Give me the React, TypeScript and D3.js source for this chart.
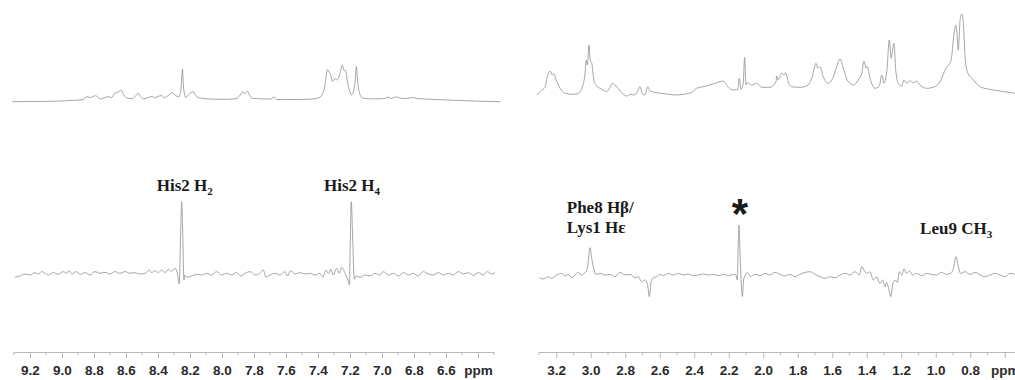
import React, { useEffect, useRef } from 'react';
import * as d3 from 'd3';

// aromatic region, 1D reference spectrum: [ppm, intensity a.u.]
const aroRef: [number, number][] = [
  [9.31, 0.3], [9.14, 0.5], [8.89, 2], [8.86, 3], [8.85, 5.3], [8.825, 4.5], [8.79, 6.3], [8.76, 3],
  [8.74, 4], [8.71, 5.3], [8.69, 4.5], [8.67, 8.7], [8.65, 10], [8.63, 11.7], [8.61, 6], [8.58, 3.5],
  [8.56, 3.3], [8.54, 6], [8.525, 8.7], [8.51, 5.5], [8.49, 3.2], [8.46, 4.5], [8.44, 5.5], [8.42, 4.5],
  [8.40, 5.5], [8.38, 6.5], [8.36, 4.5], [8.34, 6], [8.325, 8], [8.31, 9.3], [8.29, 6.5], [8.27, 5.2],
  [8.256, 14], [8.247, 33], [8.24, 14], [8.225, 4.5], [8.21, 7], [8.18, 10.3], [8.16, 5.5], [8.14, 4.2],
  [8.10, 3.2], [8.04, 2.8], [7.98, 2.7], [7.92, 3.2], [7.89, 6], [7.87, 10.3], [7.86, 8.5], [7.84, 10.7],
  [7.825, 6], [7.81, 3.7], [7.76, 3.2], [7.72, 3], [7.69, 3.2], [7.675, 5.2], [7.66, 2.5], [7.61, 2.5],
  [7.51, 2.5], [7.44, 3], [7.40, 4], [7.375, 7], [7.36, 14], [7.34, 32.5], [7.33, 30], [7.32, 27],
  [7.31, 20.5], [7.294, 23.5], [7.28, 22], [7.266, 27], [7.247, 36.7], [7.24, 32], [7.228, 31.5],
  [7.216, 20], [7.20, 10], [7.19, 7.2], [7.17, 17], [7.16, 35.3], [7.153, 22], [7.14, 8.5], [7.12, 4],
  [7.075, 3.2], [7.01, 3.2], [6.975, 4], [6.96, 5], [6.94, 3.5], [6.925, 4.5], [6.905, 5], [6.89, 4],
  [6.856, 3.5], [6.825, 4], [6.806, 4.5], [6.78, 3.5], [6.73, 3], [6.64, 2.3], [6.51, 1.5], [6.39, 0.8],
  [6.26, 0.3],
];

// aromatic region, difference spectrum
const aroDiff: [number, number][] = [
  [9.294, -4], [9.263, -2.7], [9.231, -0.7], [9.2, -1.7], [9.169, 0.7], [9.148, -0.7], [9.127, 1.7],
  [9.106, 0], [9.085, -1.7], [9.054, 0.7], [9.023, -1], [8.992, 1.7], [8.971, 0], [8.956, 2.7],
  [8.94, -0.7], [8.908, 1.7], [8.888, -1], [8.856, 0.7], [8.825, -1.7], [8.794, 1.7], [8.763, 0],
  [8.731, 1], [8.7, -0.7], [8.669, 1.7], [8.638, 0], [8.606, 1.7], [8.575, 0], [8.544, 0.7],
  [8.513, -0.7], [8.481, 0], [8.454, 3.3], [8.44, 0.7], [8.419, 2.7], [8.398, 0.7], [8.377, 3.3],
  [8.356, 0.7], [8.335, 4], [8.315, 1.7], [8.294, 5], [8.279, 0], [8.267, -10.7], [8.258, 43.3],
  [8.252, 71.7], [8.246, 43.3], [8.238, -6.7], [8.231, -1.7], [8.221, -4], [8.19, -2.7], [8.158, -1],
  [8.127, -1.7], [8.096, 0], [8.065, -1.7], [8.033, 1.7], [8.002, -1.7], [7.971, 0], [7.94, -1.7],
  [7.908, 0.7], [7.883, -2.7], [7.856, 0], [7.825, 1.7], [7.794, -1.7], [7.763, 0], [7.742, 3.3],
  [7.725, -4], [7.7, -1.7], [7.669, 0], [7.638, -1.7], [7.606, 1.7], [7.592, -2.7], [7.571, 2.7],
  [7.544, -0.7], [7.513, 0.7], [7.481, -0.7], [7.45, 0], [7.419, -1.7], [7.388, 0], [7.371, -4],
  [7.35, 3.3], [7.335, 0], [7.321, 4], [7.304, -1.7], [7.283, 5], [7.267, 0], [7.252, 6], [7.231, 0],
  [7.21, -8.3], [7.204, -11.7], [7.198, 33.3], [7.192, 71.7], [7.183, 33.3], [7.173, -6], [7.163, -2.7],
  [7.138, -4], [7.106, -1.7], [7.075, -2.7], [7.044, 0], [7.013, -1.7], [6.992, 1.7], [6.96, -1.7],
  [6.929, 0], [6.898, -2.7], [6.867, 0.7], [6.835, -1.7], [6.804, 0], [6.773, -2.7], [6.742, 1.7],
  [6.71, -0.7], [6.679, -1.7], [6.648, 0.7], [6.617, -1.7], [6.585, 0], [6.554, -1.7], [6.523, 1.7],
  [6.492, -0.7], [6.46, 0.7], [6.429, -2], [6.398, 0.7], [6.367, -1.7], [6.342, 1.7], [6.315, -0.7],
  [6.294, 0.7],
];

// aliphatic region, 1D reference spectrum
const aliRef: [number, number][] = [
  [3.313, 1], [3.284, 6], [3.265, 8.7], [3.252, 19.3], [3.236, 25], [3.223, 21], [3.215, 22],
  [3.197, 14.3], [3.178, 7.7], [3.149, 2.7], [3.101, 1.7], [3.072, 2.7], [3.052, 7.7], [3.033, 22.7],
  [3.026, 36], [3.02, 31], [3.01, 51], [3.003, 36], [2.994, 32.7], [2.985, 19.3], [2.971, 11],
  [2.956, 8.7], [2.927, 6], [2.908, 4.3], [2.888, 8.7], [2.873, 12.7], [2.859, 11], [2.846, 8.7],
  [2.821, 3.3], [2.792, 0], [2.768, 1.7], [2.749, 1], [2.73, 4.3], [2.714, 9.3], [2.701, 2], [2.686, 1],
  [2.67, 9.3], [2.657, 5.3], [2.618, 3.3], [2.56, 2], [2.502, 1], [2.463, 1.7], [2.415, 3.7],
  [2.386, 7.7], [2.328, 10], [2.28, 12.7], [2.251, 14.3], [2.232, 15], [2.203, 8.7], [2.174, 6],
  [2.148, 6.7], [2.139, 17.7], [2.129, 6.7], [2.116, 12.7], [2.108, 38.7], [2.1, 11], [2.092, 13.3],
  [2.067, 11], [2.038, 12.7], [2.009, 8.7], [1.961, 8.7], [1.926, 14.3], [1.922, 20], [1.913, 16],
  [1.893, 22.7], [1.88, 21], [1.87, 23.3], [1.855, 14.3], [1.835, 9.3], [1.787, 8.7], [1.748, 10],
  [1.719, 17.7], [1.694, 32.7], [1.684, 27.7], [1.671, 29.3], [1.652, 19.3], [1.623, 12.7],
  [1.597, 17.7], [1.574, 29.3], [1.555, 37], [1.536, 27.7], [1.513, 16], [1.478, 11], [1.449, 16],
  [1.429, 22.7], [1.416, 35], [1.404, 27.7], [1.397, 29.3], [1.381, 17.7], [1.352, 7.7], [1.327, 10],
  [1.313, 21], [1.3, 12.7], [1.284, 24.3], [1.269, 56], [1.259, 37.7], [1.25, 46], [1.242, 52.7],
  [1.232, 26], [1.217, 12.7], [1.197, 10], [1.184, 16], [1.168, 12.7], [1.149, 15.3], [1.13, 13.3],
  [1.11, 15], [1.091, 11], [1.052, 7.7], [1.014, 8.7], [0.975, 14.3], [0.95, 24.3], [0.936, 29.3],
  [0.923, 31], [0.908, 39.3], [0.894, 62.7], [0.884, 71], [0.879, 66], [0.869, 46], [0.859, 76],
  [0.849, 82], [0.84, 72.7], [0.83, 39.3], [0.817, 24.3], [0.782, 16], [0.743, 9.3], [0.686, 6.7],
  [0.628, 5], [0.541, 2.7],
];

// aliphatic region, difference spectrum
const aliDiff: [number, number][] = [
  [3.298, -1], [3.275, -2.3], [3.246, 0], [3.227, -1.7], [3.198, 1.7], [3.169, 3.3], [3.149, 0.7],
  [3.13, 2.3], [3.111, -1], [3.091, 1.7], [3.072, 4.3], [3.058, 1.7], [3.039, 3.3], [3.02, 8.3],
  [3.004, 29], [2.993, 16.7], [2.981, 6.7], [2.97, 2.3], [2.946, 3.3], [2.917, 1.7], [2.888, 2.3],
  [2.859, 0], [2.83, 4.3], [2.801, 1.7], [2.772, 2.3], [2.743, -1], [2.724, 0], [2.705, -5],
  [2.686, -3.3], [2.672, -6.7], [2.66, -20], [2.651, -5.7], [2.637, -1], [2.618, 0], [2.599, 2.3],
  [2.579, 1], [2.55, 3.3], [2.521, 1.7], [2.492, 3.3], [2.463, 1.7], [2.434, 2.7], [2.405, 1],
  [2.376, 1.7], [2.347, 2.7], [2.318, 1.7], [2.289, 2.3], [2.26, 1], [2.231, 2.3], [2.202, 1],
  [2.173, 2.3], [2.158, 1.7], [2.15, -3.3], [2.146, 25], [2.141, 51.7], [2.135, 25], [2.127, -8.3],
  [2.121, -20], [2.114, -3.3], [2.104, 1.7], [2.092, 4.3], [2.073, 0], [2.048, 2.3], [2.019, 1],
  [1.99, 3.3], [1.961, 1.7], [1.932, 4.3], [1.903, 2.3], [1.874, 0.7], [1.845, 2.3], [1.816, 0],
  [1.787, 2.3], [1.758, 4.3], [1.729, 5], [1.7, 2.3], [1.671, 0], [1.642, -1.7], [1.613, 0],
  [1.584, -1], [1.555, 1.7], [1.526, 3.3], [1.497, 1.7], [1.468, 5], [1.443, 1.7], [1.429, 10],
  [1.416, 6.7], [1.4, 3.3], [1.381, 5], [1.362, -3.3], [1.343, 0], [1.323, -6.7], [1.308, -3.3],
  [1.294, -10], [1.285, -5.7], [1.269, -15], [1.261, -20], [1.25, -8.3], [1.236, -3.3], [1.223, -5.7],
  [1.211, 5], [1.198, 1.7], [1.184, 7.7], [1.169, 3.3], [1.153, 5.7], [1.134, 1.7], [1.111, 3.3],
  [1.082, 1], [1.053, 3.3], [1.024, 2.3], [0.995, 1.7], [0.966, 4.3], [0.937, 2.3], [0.913, 3.3],
  [0.898, 8.3], [0.883, 20], [0.869, 10], [0.856, 3.3], [0.83, 5], [0.801, 2.3], [0.772, 4.3],
  [0.743, 1.7], [0.714, 0], [0.685, 1.7], [0.656, 3.3], [0.627, 1.7], [0.599, 0], [0.57, 3.3],
  [0.541, 2.3],
];

// axis ticks (ppm); the last major tick carries the unit instead of a number
const aroMajor = [9.2, 9.0, 8.8, 8.6, 8.4, 8.2, 8.0, 7.8, 7.6, 7.4, 7.2, 7.0, 6.8, 6.6, 6.4];
const aroMinor = [9.3, 9.1, 8.9, 8.7, 8.5, 8.3, 8.1, 7.9, 7.7, 7.5, 7.3, 7.1, 6.9, 6.7, 6.5, 6.3];
const aliMajor = [3.2, 3.0, 2.8, 2.6, 2.4, 2.2, 2.0, 1.8, 1.6, 1.4, 1.2, 1.0, 0.8, 0.6];
const aliMinor = [3.3, 3.1, 2.9, 2.7, 2.5, 2.3, 2.1, 1.9, 1.7, 1.5, 1.3, 1.1, 0.9, 0.7, 0.5];

// peak assignments: [ppm of label start, main text, subscript]
const aroLabels: [number, string, string][] = [
  [8.408, 'His2 H', '2'],
  [7.3625, 'His2 H', '4'],
];

function App() {
  const svgRef = useRef<SVGSVGElement>(null);

  useEffect(() => {
    const width = 1015;
    const height = 380;
    const axisY = 352;
    const lineColor = '#959595';
    const axisColor = '#b8b8b8';

    const svg = d3.select(svgRef.current)
      .attr('width', width)
      .attr('height', height);
    svg.selectAll('*').remove();

    // x scales for the two panels (ppm runs right to left)
    const xAro = d3.scaleLinear().domain([9.30, 6.30]).range([14, 494]);
    const xAli = d3.scaleLinear().domain([3.30, 0.50]).range([539, 1022]);

    // y scales: one per trace, zero at the trace's baseline
    const yAroRef = d3.scaleLinear().domain([0, 100]).range([102, 2]);
    const yAliRef = d3.scaleLinear().domain([0, 100]).range([96, -4]);
    const yAroDiff = d3.scaleLinear().domain([0, 100]).range([273.3, 173.3]);
    const yAliDiff = d3.scaleLinear().domain([0, 100]).range([276.7, 176.7]);

    const drawTrace = (data, x, y) => {
      const line = d3.line<[number, number]>()
        .x(d => x(d[0]))
        .y(d => y(d[1]))
        .curve(d3.curveMonotoneX);
      svg.append('path')
        .datum(data)
        .attr('d', line)
        .attr('fill', 'none')
        .attr('stroke', lineColor)
        .attr('stroke-width', 0.85);
    };

    drawTrace(aroRef, xAro, yAroRef);
    drawTrace(aliRef, xAli, yAliRef);
    drawTrace(aroDiff, xAro, yAroDiff);
    drawTrace(aliDiff, xAli, yAliDiff);

    // axes
    const drawAxis = (x, majors, minors, unitTick) => {
      const g = svg.append('g').attr('transform', `translate(0,${axisY})`);
      g.call(d3.axisBottom(x)
        .tickValues(majors)
        .tickSize(6)
        .tickSizeOuter(0)
        .tickFormat(d => (Math.abs(d - unitTick) < 1e-6 ? 'ppm' : d3.format('.1f')(d))));
      minors.forEach(m => {
        g.append('line')
          .attr('x1', x(m)).attr('x2', x(m))
          .attr('y1', 0).attr('y2', 3)
          .attr('stroke', axisColor);
      });
      g.select('.domain').attr('stroke', axisColor);
      g.selectAll('.tick line').attr('stroke', axisColor);
      g.selectAll('.tick text')
        .attr('y', 23)
        .attr('dy', 0)
        .attr('fill', '#2a2a2a')
        .style('font-family', '"Liberation Sans", Arial, sans-serif')
        .style('font-weight', 'bold')
        .style('font-size', '13.5px');
    };

    drawAxis(xAro, aroMajor, aroMinor, 6.4);
    drawAxis(xAli, aliMajor, aliMinor, 0.6);

    // labels
    const serif = '"Liberation Serif", "Times New Roman", serif';
    const label = (xPos, yPos, main, sub) => {
      const t = svg.append('text')
        .attr('x', xPos)
        .attr('y', yPos)
        .attr('fill', '#1a1a1a')
        .style('font-family', serif)
        .style('font-weight', 'bold')
        .style('font-size', '17px')
        .text(main);
      if (sub) {
        t.append('tspan')
          .attr('dy', 4)
          .style('font-size', '11px')
          .text(sub);
      }
      return t;
    };

    aroLabels.forEach(([ppm, main, sub]) => label(xAro(ppm), 190.7, main, sub));
    label(xAli(3.139), 213.3, 'Phe8 H\u03b2/', '');
    label(xAli(3.139), 233.3, 'Lys1 H\u03b5', '');
    label(xAli(1.091), 234.3, 'Leu9 CH', '3');

    // solvent / impurity marker
    svg.append('text')
      .attr('x', xAli(2.135))
      .attr('y', 228)
      .attr('text-anchor', 'middle')
      .attr('fill', '#1a1a1a')
      .style('font-family', '"Liberation Sans", Arial, sans-serif')
      .style('font-weight', 'bold')
      .style('font-size', '42px')
      .text('*');
  }, []);

  return (
    <svg ref={svgRef} style={{ position: 'absolute', left: 0, top: 0, background: '#fff' }}></svg>
  );
}

export default App;
